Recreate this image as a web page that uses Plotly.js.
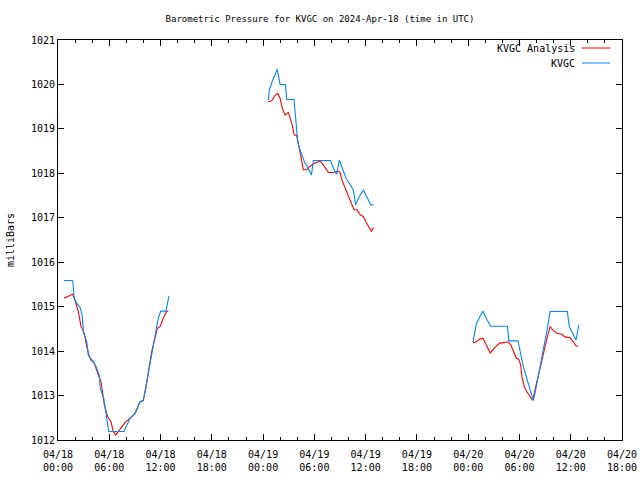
<!DOCTYPE html>
<html>
<head>
<meta charset="utf-8">
<script src="https://cdn.plot.ly/plotly-3.0.1.min.js"></script>
<style>html,body{margin:0;padding:0;background:#fff;}#chart{width:640px;height:480px;}</style>
</head>
<body>
<div id="chart"></div>
<script>
// KVGC Analysis (red)
const analysisTimes = [
  "2024-04-18 00:42","2024-04-18 01:19","2024-04-18 01:43","2024-04-18 01:59","2024-04-18 02:23","2024-04-18 02:42",
  "2024-04-18 03:05","2024-04-18 03:22","2024-04-18 03:40","2024-04-18 03:52","2024-04-18 04:15","2024-04-18 04:39",
  "2024-04-18 05:02","2024-04-18 05:14","2024-04-18 05:25","2024-04-18 05:49","2024-04-18 06:12","2024-04-18 06:28",
  "2024-04-18 06:45","2024-04-18 07:08","2024-04-18 07:50","2024-04-18 08:26","2024-04-18 09:01","2024-04-18 09:36",
  "2024-04-18 09:59","2024-04-18 10:16","2024-04-18 10:34","2024-04-18 10:58","2024-04-18 11:21","2024-04-18 11:37",
  "2024-04-18 11:56","2024-04-18 12:19","2024-04-18 12:43","2024-04-18 12:54",
  "2024-04-18 18:00",
  "2024-04-19 00:37","2024-04-19 01:01","2024-04-19 01:24","2024-04-19 01:43","2024-04-19 01:59","2024-04-19 02:15",
  "2024-04-19 02:34","2024-04-19 02:57","2024-04-19 03:21","2024-04-19 03:39","2024-04-19 03:56","2024-04-19 04:07",
  "2024-04-19 04:24","2024-04-19 04:42","2024-04-19 05:06","2024-04-19 05:25","2024-04-19 05:46","2024-04-19 06:05",
  "2024-04-19 06:40","2024-04-19 07:03","2024-04-19 07:38","2024-04-19 08:13","2024-04-19 08:44","2024-04-19 09:00",
  "2024-04-19 09:16","2024-04-19 09:47","2024-04-19 10:17","2024-04-19 10:38","2024-04-19 10:59","2024-04-19 11:24",
  "2024-04-19 11:44","2024-04-19 12:06","2024-04-19 12:41","2024-04-19 12:54",
  "2024-04-19 18:00",
  "2024-04-20 00:34","2024-04-20 00:57","2024-04-20 01:21","2024-04-20 01:44","2024-04-20 02:07","2024-04-20 02:35",
  "2024-04-20 03:06","2024-04-20 03:41","2024-04-20 04:12","2024-04-20 04:40","2024-04-20 04:59","2024-04-20 05:27",
  "2024-04-20 05:38","2024-04-20 05:55","2024-04-20 06:08","2024-04-20 06:18","2024-04-20 06:34","2024-04-20 06:51",
  "2024-04-20 07:09","2024-04-20 07:33","2024-04-20 07:49","2024-04-20 08:12","2024-04-20 08:36","2024-04-20 08:58",
  "2024-04-20 09:16","2024-04-20 09:35","2024-04-20 09:58","2024-04-20 10:26","2024-04-20 10:57","2024-04-20 11:20",
  "2024-04-20 11:55","2024-04-20 12:18","2024-04-20 12:37","2024-04-20 12:53"
];
const analysisValues = [
  1015.19,1015.25,1015.28,1015.15,1014.89,1014.55,
  1014.40,1014.10,1013.87,1013.80,1013.73,1013.50,
  1013.31,1013.05,1012.79,1012.52,1012.41,1012.19,
  1012.11,1012.21,1012.39,1012.49,1012.60,1012.86,
  1012.90,1013.16,1013.54,1013.99,1014.29,1014.51,
  1014.55,1014.74,1014.89,1014.90,
  null,
  1019.61,1019.63,1019.75,1019.80,1019.69,1019.46,
  1019.31,1019.37,1019.13,1018.86,1018.85,1018.64,
  1018.41,1018.08,1018.08,1018.15,1018.20,1018.23,
  1018.28,1018.19,1018.02,1018.02,1018.05,1018.02,
  1017.83,1017.59,1017.36,1017.18,1017.18,1017.06,
  1017.03,1016.88,1016.69,1016.78,
  null,
  1014.19,1014.21,1014.27,1014.29,1014.14,1013.96,
  1014.08,1014.18,1014.19,1014.21,1014.14,1013.91,
  1013.84,1013.82,1013.69,1013.41,1013.20,1013.09,
  1012.99,1012.89,1013.13,1013.46,1013.80,1014.10,
  1014.32,1014.55,1014.46,1014.40,1014.38,1014.32,
  1014.30,1014.21,1014.12,1014.11
];

// KVGC observations (blue)
const kvgcTimes = [
  "2024-04-18 00:42","2024-04-18 01:43","2024-04-18 01:54","2024-04-18 02:11","2024-04-18 02:37","2024-04-18 02:49",
  "2024-04-18 03:00","2024-04-18 03:22","2024-04-18 03:33","2024-04-18 04:04","2024-04-18 04:27","2024-04-18 04:50",
  "2024-04-18 04:57","2024-04-18 05:21","2024-04-18 05:32","2024-04-18 05:42","2024-04-18 05:56","2024-04-18 07:43",
  "2024-04-18 08:26","2024-04-18 09:01","2024-04-18 09:36","2024-04-18 09:59","2024-04-18 10:23","2024-04-18 10:58",
  "2024-04-18 11:21","2024-04-18 11:44","2024-04-18 12:01","2024-04-18 12:38","2024-04-18 12:59",
  "2024-04-18 18:00",
  "2024-04-19 00:37","2024-04-19 00:44","2024-04-19 01:03","2024-04-19 01:26","2024-04-19 01:40","2024-04-19 01:59",
  "2024-04-19 02:37","2024-04-19 02:46","2024-04-19 03:37","2024-04-19 03:51","2024-04-19 04:03","2024-04-19 04:19",
  "2024-04-19 04:42","2024-04-19 04:54","2024-04-19 05:18","2024-04-19 05:39","2024-04-19 05:53","2024-04-19 07:53",
  "2024-04-19 08:18","2024-04-19 08:37","2024-04-19 08:55","2024-04-19 09:19","2024-04-19 09:42","2024-04-19 10:10",
  "2024-04-19 10:33","2024-04-19 10:50","2024-04-19 11:09","2024-04-19 11:44","2024-04-19 12:12","2024-04-19 12:36",
  "2024-04-19 12:54",
  "2024-04-19 18:00",
  "2024-04-20 00:34","2024-04-20 00:46","2024-04-20 00:57","2024-04-20 01:21","2024-04-20 01:44","2024-04-20 02:07",
  "2024-04-20 02:37","2024-04-20 04:36","2024-04-20 04:45","2024-04-20 05:50","2024-04-20 06:06","2024-04-20 06:27",
  "2024-04-20 06:51","2024-04-20 07:14","2024-04-20 07:37","2024-04-20 07:49","2024-04-20 08:12","2024-04-20 08:36",
  "2024-04-20 08:58","2024-04-20 09:16","2024-04-20 09:35","2024-04-20 11:36","2024-04-20 11:50","2024-04-20 12:14",
  "2024-04-20 12:37","2024-04-20 12:46","2024-04-20 12:56"
];
const kvgcValues = [
  1015.59,1015.59,1015.19,1015.08,1014.97,1014.81,
  1014.41,1014.21,1013.91,1013.78,1013.65,1013.46,
  1013.16,1012.94,1012.71,1012.49,1012.19,1012.19,
  1012.49,1012.60,1012.86,1012.88,1013.31,1013.87,
  1014.29,1014.74,1014.90,1014.90,1015.24,
  null,
  1019.65,1019.88,1020.06,1020.25,1020.34,1020.00,
  1020.00,1019.66,1019.66,1019.16,1018.71,1018.53,
  1018.34,1018.23,1018.11,1017.96,1018.29,1018.29,
  1018.08,1017.98,1018.30,1018.08,1017.89,1017.75,
  1017.63,1017.29,1017.44,1017.63,1017.44,1017.29,
  1017.29,
  null,
  1014.21,1014.48,1014.61,1014.77,1014.90,1014.74,
  1014.56,1014.56,1014.23,1014.23,1013.98,1013.65,
  1013.39,1013.11,1012.89,1013.05,1013.42,1013.84,
  1014.18,1014.51,1014.89,1014.89,1014.55,1014.40,
  1014.25,1014.40,1014.59
];

const seriesNames = ["KVGC Analysis", "KVGC"];
const seriesColors = ["#ff0000", "#0088ff"];
const xRange = ["2024-04-18 00:00", "2024-04-20 18:00"];
const yRange = [1012, 1021];
const titleText = "Barometric Pressure for KVGC on 2024-Apr-18 (time in UTC)";
const yTitle = "milliBars";

const FONT = "DejaVu Sans Mono, monospace";

const traces = [
  {x: analysisTimes, y: analysisValues, type: "scatter", mode: "lines", name: seriesNames[0],
   line: {color: seriesColors[0], width: 1.1}, connectgaps: false},
  {x: kvgcTimes, y: kvgcValues, type: "scatter", mode: "lines", name: seriesNames[1],
   line: {color: seriesColors[1], width: 1.1}, connectgaps: false}
];

// gnuplot-style key (text on the left, sample line on the right)
const keyRows = [0.98, 0.9425];
const annotations = seriesNames.map((n, i) => ({
  text: n, xref: "paper", yref: "paper", x: 0.921, y: keyRows[i],
  xanchor: "right", yanchor: "middle", showarrow: false,
  font: {family: FONT, size: 10, color: "#000"}
}));
const shapes = seriesNames.map((n, i) => ({
  type: "line", xref: "paper", yref: "paper", x0: 0.929, x1: 0.979, y0: keyRows[i], y1: keyRows[i],
  line: {color: seriesColors[i], width: 1}
}));

const layout = {
  width: 640, height: 480,
  margin: {l: 58, r: 18, t: 40, b: 40},
  paper_bgcolor: "#fff", plot_bgcolor: "#fff",
  showlegend: false,
  font: {family: FONT, size: 10, color: "#000"},
  title: {text: titleText, x: 0.5, xref: "container", xanchor: "center",
          y: 1 - 19/480, yref: "container", yanchor: "middle",
          font: {family: FONT, size: 9, color: "#000"}},
  xaxis: {
    type: "date", range: xRange, dtick: 6*3600*1000, tick0: "2024-04-18 00:00",
    tickformat: "%m/%d<br>%H:%M",
    showgrid: false, zeroline: false,
    showline: true, linecolor: "#000", linewidth: 1, mirror: "allticks",
    ticks: "inside", ticklen: 6, tickcolor: "#000", tickwidth: 1,
    ticklabelstandoff: 5,
    minor: {dtick: 2*3600*1000, ticks: "inside", ticklen: 3, tickcolor: "#000", tickwidth: 1, showgrid: false},
    tickfont: {family: FONT, size: 10, color: "#000"}
  },
  yaxis: {
    range: yRange, dtick: 1, tick0: 1012,
    showgrid: false, zeroline: false,
    showline: true, linecolor: "#000", linewidth: 1, mirror: "allticks",
    ticks: "inside", ticklen: 6, tickcolor: "#000", tickwidth: 1,
    tickfont: {family: FONT, size: 10, color: "#000"},
    title: {text: yTitle, standoff: 14, font: {family: FONT, size: 10, color: "#000"}}
  },
  annotations: annotations,
  shapes: shapes
};

Plotly.newPlot("chart", traces, layout, {staticPlot: true, displayModeBar: false});
</script>
</body>
</html>
